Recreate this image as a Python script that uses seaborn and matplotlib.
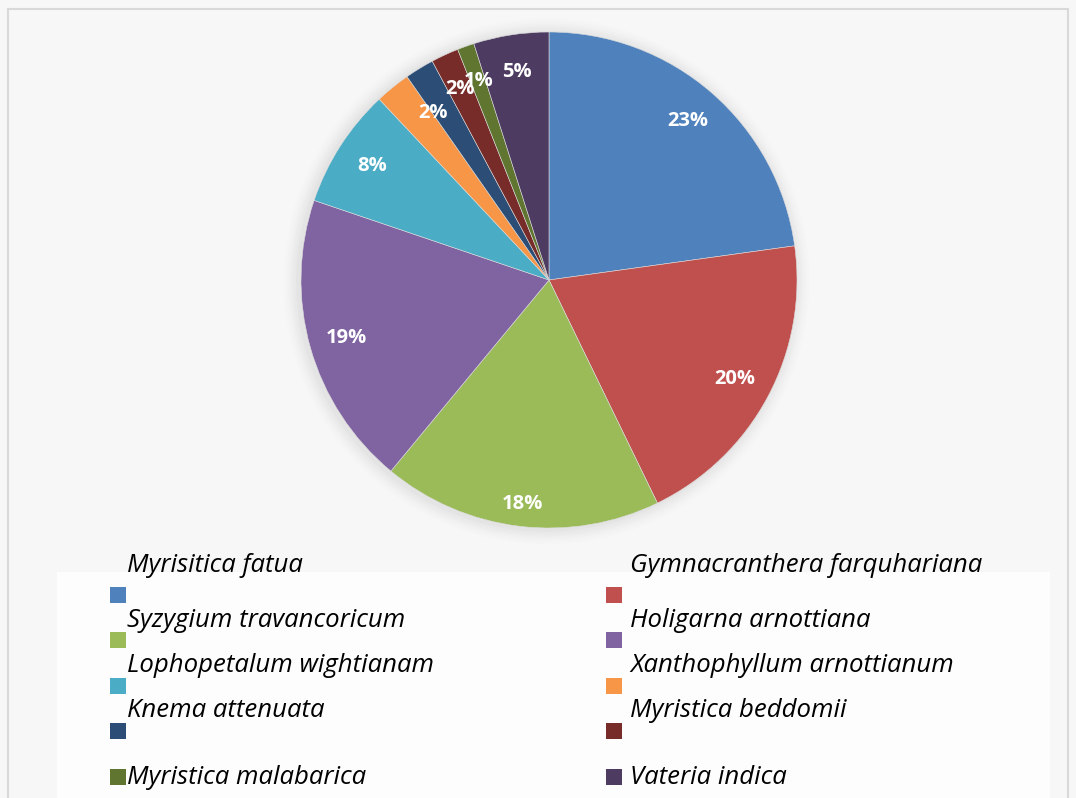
import numpy as np
import matplotlib
matplotlib.use("Agg")
import matplotlib.pyplot as plt
import seaborn as sns
from matplotlib.patches import Rectangle, Circle

# Species share (percent), clockwise from 12 o'clock
species = ["Myrisitica fatua", "Gymnacranthera farquhariana", "Syzygium travancoricum",
           "Holigarna arnottiana", "Lophopetalum wightianam", "Xanthophyllum arnottianum",
           "Knema attenuata", "Myristica beddomii", "Myristica malabarica", "Vateria indica"]
shares = [22.8, 20.0, 18.2, 19.2, 7.8, 2.3, 1.9, 1.8, 1.1, 4.9]
colors = ["#4F81BD", "#C0504D", "#9BBB59", "#8064A2", "#4BACC6",
          "#F79646", "#2C4D75", "#772C2A", "#5F7530", "#4D3B62"]

sns.set_theme(style="white")
plt.rcParams["font.family"] = ["Open Sans", "DejaVu Sans"]

W, H = 1076, 798
fig = plt.figure(figsize=(W / 100, H / 100), dpi=100)
fig.patch.set_facecolor("#f7f7f7")

# chart border
fig.patches.append(Rectangle((8 / W, -0.01), 1060 / W, (H - 9) / H + 0.01, transform=fig.transFigure,
                             fill=False, edgecolor="#d9d9d9", linewidth=1.5))
# legend background
fig.patches.append(Rectangle((57 / W, 0), (1050 - 57) / W, (H - 572) / H, transform=fig.transFigure,
                             facecolor="#fdfdfd", edgecolor="none"))

cx, cy, half = 549, 280, 250
ax = fig.add_axes([(cx - half) / W, (H - cy - half) / H, 2 * half / W, 2 * half / H])
ax.set_facecolor("none")

# soft shadow behind pie
for i, a in enumerate(np.linspace(0.04, 0.01, 6)):
    ax.add_patch(Circle((-0.01, -0.005), 1.0 + 0.01 * (i + 1), facecolor="#888888",
                        edgecolor="none", alpha=a, zorder=0, clip_on=False))

wedges, texts, autotexts = ax.pie(
    shares, colors=sns.color_palette(colors), startangle=90, counterclock=False,
    autopct="%.0f%%", pctdistance=0.85, radius=1.0,
    wedgeprops=dict(edgecolor="#dddddd", linewidth=0.4),
    textprops=dict(color="white", fontsize=14.5, fontweight="bold"))
for w in wedges:
    w.set_zorder(2)
for t in autotexts:
    t.set_zorder(3)

# the original shows only two of the three 2% labels, the first one sitting
# on the Xanthophyllum / Knema border
autotexts[6].set_visible(False)
edge = np.deg2rad(wedges[5].theta1)
autotexts[5].set_position((0.82 * np.cos(edge), 0.82 * np.sin(edge)))
# 18% label sits a little further out
x18, y18 = autotexts[2].get_position()
autotexts[2].set_position((x18 * 1.07, y18 * 1.07))

# pie() resets the limits, so set them afterwards (radius 1 -> 248 px)
lim = half / 248
ax.set_xlim(-lim, lim)
ax.set_ylim(-lim, lim)
ax.set_aspect("equal")
ax.axis("off")

# legend laid out like the original: two columns, label above the swatch
text_base = [572, 627, 672, 717, 784]
swatch_mid = [595, 640, 686, 731, 777]
col_swatch_x = [110, 606]
col_text_x = [127, 630]
for i, (name, c) in enumerate(zip(species, colors)):
    row, col = divmod(i, 2)
    fig.text(col_text_x[col] / W, 1 - text_base[row] / H, name, fontsize=18.5, fontstyle="italic",
             color="black", va="baseline", ha="left")
    fig.patches.append(Rectangle((col_swatch_x[col] / W, 1 - (swatch_mid[row] + 8) / H), 16 / W, 16 / H,
                                 transform=fig.transFigure, facecolor=c, edgecolor="none"))

fig.savefig("out.png", dpi=100, facecolor=fig.get_facecolor())
